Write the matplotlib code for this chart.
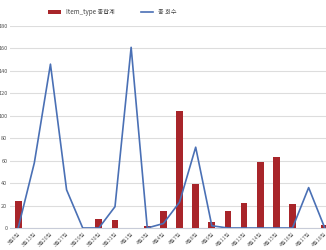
import matplotlib
matplotlib.use("Agg")
import matplotlib.pyplot as plt
import numpy as np

plt.rcParams['font.family'] = ['Noto Sans CJK KR', 'DejaVu Sans']

# 날짜 라벨 (읽기 어려워서 추정)
dates = ['3월6일', '3월13일', '3월20일', '3월27일', '3월29일', '3월30일', '3월31일',
         '4월1일', '4월3일', '4월4일', '4월7일', '4월8일', '4월9일', '4월11일',
         '4월13일', '4월14일', '4월15일', '4월16일', '4월17일', '4월18일']
item_total = [24, 0, 0, 0, 0, 8, 7, 0, 2, 15, 104, 39, 5, 15, 22, 59, 63, 21, 0, 3]
count_total = [0, 58, 146, 34, 0, 0, 19, 161, 0, 4, 23, 72, 2, 0, 0, 0, 0, 0, 36, 0]

bar_color = '#a8252a'
line_color = '#4a70b5'

fig = plt.figure(figsize=(3.26, 2.5), dpi=100)
ax = fig.add_axes([0.031, 0.088, 0.99, 0.808])

x = np.arange(len(dates))
bars = ax.bar(x, item_total, width=0.42, color=bar_color, label='Item_type 총합계', zorder=3)
line, = ax.plot(x, count_total, color=line_color, linewidth=1.2, label='총 회수', zorder=4)

ax.set_xlim(-0.5, len(dates) - 0.5)
ax.set_ylim(0, 180)
ax.set_yticks(np.arange(0, 181, 20))
ax.yaxis.grid(True, color='#dddddd', linewidth=0.8, zorder=0)
ax.set_axisbelow(True)

for s in ['top', 'right', 'left']:
    ax.spines[s].set_visible(False)
ax.spines['bottom'].set_color('#c8ccd8')
ax.spines['bottom'].set_linewidth(0.8)

ax.set_xticks(x)
ax.set_xticklabels(dates, rotation=45, ha='right', rotation_mode='anchor')
ax.tick_params(axis='x', length=0, labelsize=3.8, labelcolor='#666666', pad=2)
ax.tick_params(axis='y', length=0, labelsize=4, labelcolor='#555555', pad=2)

# 범례: 막대 먼저, 선 다음
fig.legend([bars, line], ['Item_type 총합계', '총 회수'], loc='center',
           bbox_to_anchor=(0.345, 0.95), ncol=2, frameon=False,
           fontsize=4.5, handlelength=2.0, handleheight=0.6, columnspacing=4.2,
           labelcolor='#444444', borderaxespad=0)

fig.savefig('out.png', dpi=100, facecolor='white')
